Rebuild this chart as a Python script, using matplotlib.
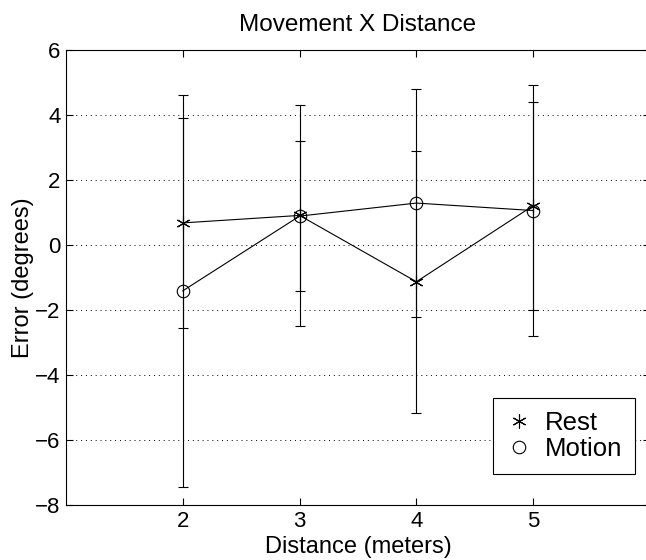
import numpy as np
import matplotlib
matplotlib.use("Agg")
import matplotlib.pyplot as plt
from matplotlib.lines import Line2D

plt.rcParams['font.family'] = ['Liberation Sans', 'DejaVu Sans']

distance = [2, 3, 4, 5]
rest_mean = [0.68, 0.91, -1.13, 1.21]
rest_err = [3.23, 3.39, 4.03, 3.20]
motion_mean = [-1.41, 0.89, 1.29, 1.06]
motion_err = [6.03, 2.30, 3.52, 3.85]

fig = plt.figure(figsize=(6.46, 5.6), dpi=100)
ax = fig.add_axes([66 / 646, 1 - 505 / 560, (650 - 66) / 646, (505 - 50) / 560])

ax.errorbar(distance, rest_mean, yerr=rest_err, color='black', lw=0.8,
            elinewidth=0.8, capsize=3.5, capthick=0.8,
            marker=(6, 2, 0), ms=10, mew=0.8)
ax.errorbar(distance, motion_mean, yerr=motion_err, color='black', lw=0.8,
            elinewidth=0.8, capsize=3.5, capthick=0.8,
            marker='o', ms=9, mfc='none', mew=0.8)

ax.set_xlim(1, 6)
ax.set_ylim(-8, 6)
ax.set_xticks([2, 3, 4, 5])
ax.set_yticks(np.arange(-8, 7, 2))
ax.yaxis.grid(True, linestyle=(0, (1, 4)), color='black', lw=0.7)
ax.tick_params(direction='in', length=5, width=0.8, labelsize=16,
               top=True, right=True, pad=4)
for s in ax.spines.values():
    s.set_linewidth(0.8)

ax.set_title('Movement X Distance', fontsize=17.5, pad=14)
ax.set_xlabel('Distance (meters)', fontsize=17, labelpad=3)
ax.set_ylabel('Error (degrees)', fontsize=17, labelpad=1)

handles = [Line2D([], [], ls='none', color='black', marker=(6, 2, 0), ms=10, mew=0.8),
           Line2D([], [], ls='none', color='black', marker='o', ms=9, mfc='none', mew=0.8)]
leg = ax.legend(handles, ['Rest', 'Motion'], loc='lower right',
                bbox_to_anchor=(635 / 646, 1 - 474 / 560), bbox_transform=fig.transFigure,
                fontsize=18.5, fancybox=False, framealpha=1, edgecolor='black',
                handlelength=1.0, handletextpad=0.5, borderpad=0.5, labelspacing=0.1,
                borderaxespad=0)
leg.get_frame().set_linewidth(0.8)

fig.savefig('out.png', dpi=100)
